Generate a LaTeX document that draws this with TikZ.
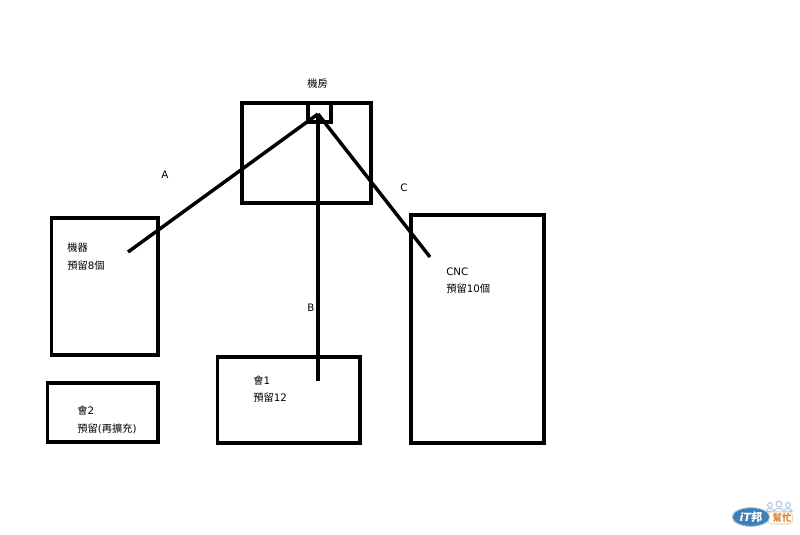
\documentclass[tikz,border=0pt]{standalone}
\usepackage{fontspec}
\setmainfont{DejaVu Sans}
\newfontfamily\cjk{Noto Sans CJK TC}
\usetikzlibrary{shapes.geometric}
\definecolor{logoblue}{HTML}{3F7FB5}
\definecolor{logoorange}{HTML}{D9853A}
\definecolor{logopale}{HTML}{A9C2DA}
\definecolor{logosand}{HTML}{F0D9B8}
\tikzset{
  x=0.75pt,y=-0.75pt,
  box/.style={draw=black,line width=2.28pt,inner sep=0pt,outer sep=0pt,fill=none},
  wire/.style={draw=black,line width=2.6pt},
  lbl/.style={inner sep=0pt,font=\fontsize{7.7}{9}\selectfont,text=black,anchor=west},
  person/.style={draw=logopale,line width=0.7pt,fill=white}
}
\newcommand{\boxat}[5]{\node[box,minimum width={(#4-#2)*0.75pt},minimum height={(#5-#3)*0.75pt}] (#1) at ({(#2+#4)/2},{(#3+#5)/2}) {};}
\begin{document}
\begin{tikzpicture}
\useasboundingbox (0,0) rectangle (800,535);
\boxat{room}{242}{103}{371}{203}
\boxat{rack}{308}{103}{331}{122}
\boxat{machine}{51.5}{218}{158}{355}
\boxat{hui2}{47.5}{383}{158}{442}
\boxat{hui1}{217.5}{357}{360}{443}
\boxat{cnc}{411}{215}{544}{443}
\coordinate (hub) at (318,114);
\coordinate (endA) at (128,252);
\coordinate (endB) at (318,381);
\coordinate (endC) at (430,257);
\draw[wire] (hub) -- (endA);
\draw[wire] (hub) -- (endB);
\draw[wire] (hub) -- (endC);
\node[lbl] (troom) at (307,84) {{\cjk 機房}};
\node[lbl] (ta) at (161,175) {A};
\node[lbl] (tb) at (307,308) {B};
\node[lbl] (tc) at (400,188) {C};
\node[lbl] (t1a) at (67,248) {{\cjk 機器}};
\node[lbl] (t1b) at (67,266) {{\cjk 預留}8{\cjk 個}};
\node[lbl] (t2a) at (77,411) {{\cjk 會}2};
\node[lbl] (t2b) at (77,429) {{\cjk 預留}({\cjk 再擴充})};
\node[lbl] (t3a) at (253,381) {{\cjk 會}1};
\node[lbl] (t3b) at (253,398) {{\cjk 預留}12};
\node[lbl] (t4a) at (446,272) {CNC};
\node[lbl] (t4b) at (446,289) {{\cjk 預留}10{\cjk 個}};
% logo
\foreach \px/\py/\s in {770/505/0.8,779/504/1,788/505/0.8}{
  \draw[person] (\px-5*\s,\py+8*\s) .. controls (\px-5*\s,\py+3*\s) and (\px+5*\s,\py+3*\s) .. (\px+5*\s,\py+8*\s) -- cycle;
  \draw[person] (\px,\py) circle[radius=3*\s];
}
\node[draw=logosand,line width=0.8pt,fill=white,rounded corners=3pt,minimum width=19pt,minimum height=9pt,inner sep=0pt] (logobg) at (780,518) {};
\node[ellipse,fill=logoblue,draw=logopale,line width=0.7pt,minimum width=28pt,minimum height=14pt,inner sep=0pt,text=white,font=\fontsize{8.5}{9}\selectfont\bfseries\itshape] (logo) at (751,517) {iT{\cjk\bfseries 邦}};
\node[inner sep=0pt,text=logoorange,font=\fontsize{7}{8}\selectfont] (logot) at (782,518) {{\cjk\bfseries 幫忙}};
\end{tikzpicture}
\end{document}
